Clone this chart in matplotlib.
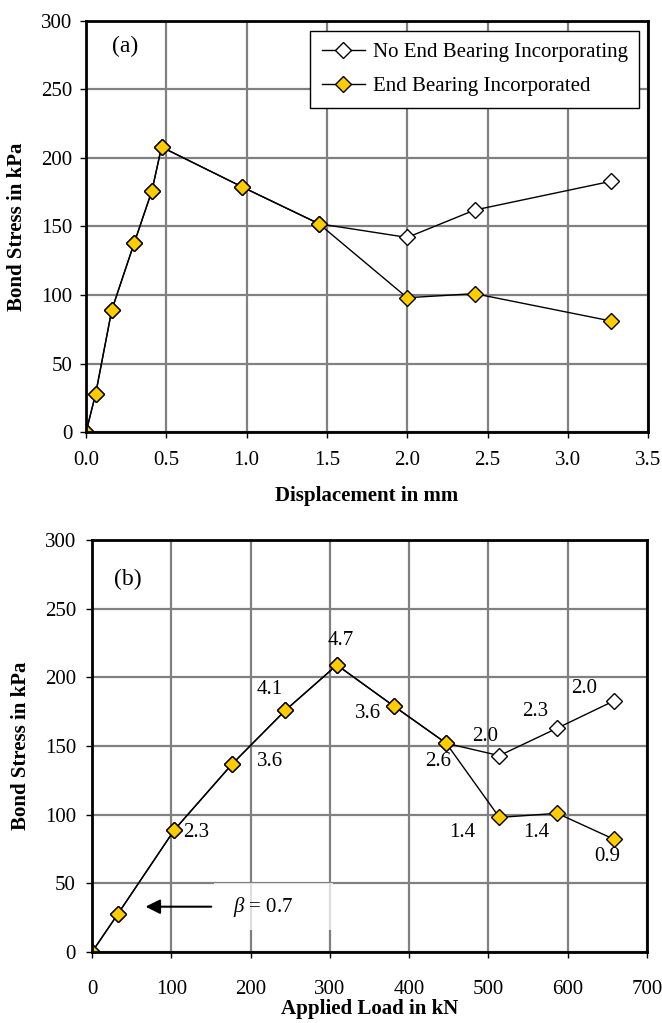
import matplotlib
matplotlib.use("Agg")
from matplotlib import pyplot as plt
from matplotlib.patches import Rectangle

plt.rcParams['font.family'] = ['Liberation Serif', 'DejaVu Serif']
plt.rcParams['mathtext.fontset'] = 'custom'
plt.rcParams['mathtext.it'] = 'Liberation Serif:italic'
plt.rcParams['mathtext.rm'] = 'Liberation Serif'

# (a) bond stress vs displacement
disp = [0.0, 0.06, 0.16, 0.30, 0.41, 0.47, 0.97, 1.45, 2.00, 2.42, 3.27]
stress_no_eb = [0, 28, 89, 138, 176, 208, 179, 152, 142, 162, 183]
stress_eb = [0, 28, 89, 138, 176, 208, 179, 152, 98, 101, 81]

# (b) bond stress vs applied load
load = [0, 33, 104, 177, 244, 309, 381, 447, 514, 587, 659]
stress_no_eb_b = [0, 28, 89, 137, 176, 209, 179, 152, 143, 163, 183]
stress_eb_b = [0, 28, 89, 137, 176, 209, 179, 152, 98, 101, 82]

beta_eb = ["", "", "2.3", "3.6", "4.1", "4.7", "3.6", "2.6", "1.4", "1.4", "0.9"]
beta_no_eb = ["", "", "", "", "", "", "", "", "2.0", "2.3", "2.0"]
# label offsets in points
off_eb = [None, None, (16, -2), (27, 2), (-11, 15), (3, 18), (-19, -5),
          (-6, -13), (-27, -11), (-15, -14), (-5, -12)]
off_no_eb = [None] * 8 + [(-10, 14), (-16, 12), (-22, 9)]

GOLD = '#FFCC00'
GRID = '#808080'
FS = 15


def style_axes(ax, xticks, xfmt):
    ax.set_ylim(0, 300)
    ax.set_yticks(range(0, 301, 50))
    ax.set_xticks(xticks)
    ax.set_xticklabels([xfmt(v) for v in xticks])
    ax.grid(True, color=GRID, linewidth=1.6)
    ax.set_axisbelow(True)
    for s in ax.spines.values():
        s.set_linewidth(2)
    ax.tick_params(labelsize=FS, length=4, width=1)
    ax.tick_params(axis='y', pad=6)


fig = plt.figure(figsize=(6.62, 10.23), dpi=100)
ax1 = fig.add_axes([0.130, 0.5777, 0.849, 0.4018])
ax2 = fig.add_axes([0.139, 0.0694, 0.838, 0.4027])

# panel (a)
ax1.plot(disp, stress_no_eb, color='black', lw=1, marker='D', ms=8.5,
         mfc='white', mec='black', mew=1, label="No End Bearing Incorporating")
ax1.plot(disp, stress_eb, color='black', lw=1, marker='D', ms=8.5,
         mfc=GOLD, mec='black', mew=1, label="End Bearing Incorporated")
ax1.set_xlim(0, 3.5)
style_axes(ax1, [0, 0.5, 1.0, 1.5, 2.0, 2.5, 3.0, 3.5], lambda v: f"{v:.1f}")
ax1.tick_params(axis='x', pad=10)
ax1.set_xlabel("Displacement in mm", fontsize=FS, fontweight='bold', labelpad=11)
ax1.set_ylabel("Bond Stress in kPa", fontsize=FS, fontweight='bold', labelpad=10)
ax1.text(0.069, 0.937, "(a)", transform=ax1.transAxes, fontsize=17,
         ha='center', va='center')
leg = ax1.legend(loc='upper right', bbox_to_anchor=(0.984, 0.976), fontsize=FS,
                 frameon=True, fancybox=False, edgecolor='black',
                 framealpha=1, borderpad=0.55, labelspacing=0.7,
                 handlelength=2.1, handletextpad=0.35, borderaxespad=0)
leg.get_frame().set_linewidth(1)

# panel (b)
ax2.plot(load, stress_no_eb_b, color='black', lw=1, marker='D', ms=8.5,
         mfc='white', mec='black', mew=1)
ax2.plot(load, stress_eb_b, color='black', lw=1, marker='D', ms=8.5,
         mfc=GOLD, mec='black', mew=1)
ax2.set_xlim(0, 700)
style_axes(ax2, list(range(0, 701, 100)), lambda v: f"{v:d}")
ax2.tick_params(axis='x', pad=16)
ax2.tick_params(axis='y', pad=7.5)
ax2.set_xlabel("Applied Load in kN", fontsize=FS, fontweight='bold', labelpad=0)
ax2.set_ylabel("Bond Stress in kPa", fontsize=FS, fontweight='bold', labelpad=10)
ax2.text(0.065, 0.905, "(b)", transform=ax2.transAxes, fontsize=17,
         ha='center', va='center')

for x, y, t, o in zip(load, stress_eb_b, beta_eb, off_eb):
    if t:
        ax2.annotate(t, (x, y), xytext=o, textcoords='offset points',
                     ha='center', va='center', fontsize=FS)
for x, y, t, o in zip(load, stress_no_eb_b, beta_no_eb, off_no_eb):
    if t:
        ax2.annotate(t, (x, y), xytext=o, textcoords='offset points',
                     ha='center', va='center', fontsize=FS)

# pale box behind the beta note, then arrow and text
ax2.add_patch(Rectangle((154, 16), 150, 34, fc='white', ec='none', alpha=0.75,
                        zorder=1))
ax2.annotate("", xy=(64, 33), xytext=(154, 33),
             arrowprops=dict(arrowstyle='-|>', color='black', lw=1.5,
                             mutation_scale=22))
ax2.text(178, 33, r"$\beta$ = 0.7", fontsize=FS, va='center', ha='left')

fig.savefig("out.png", dpi=100)
